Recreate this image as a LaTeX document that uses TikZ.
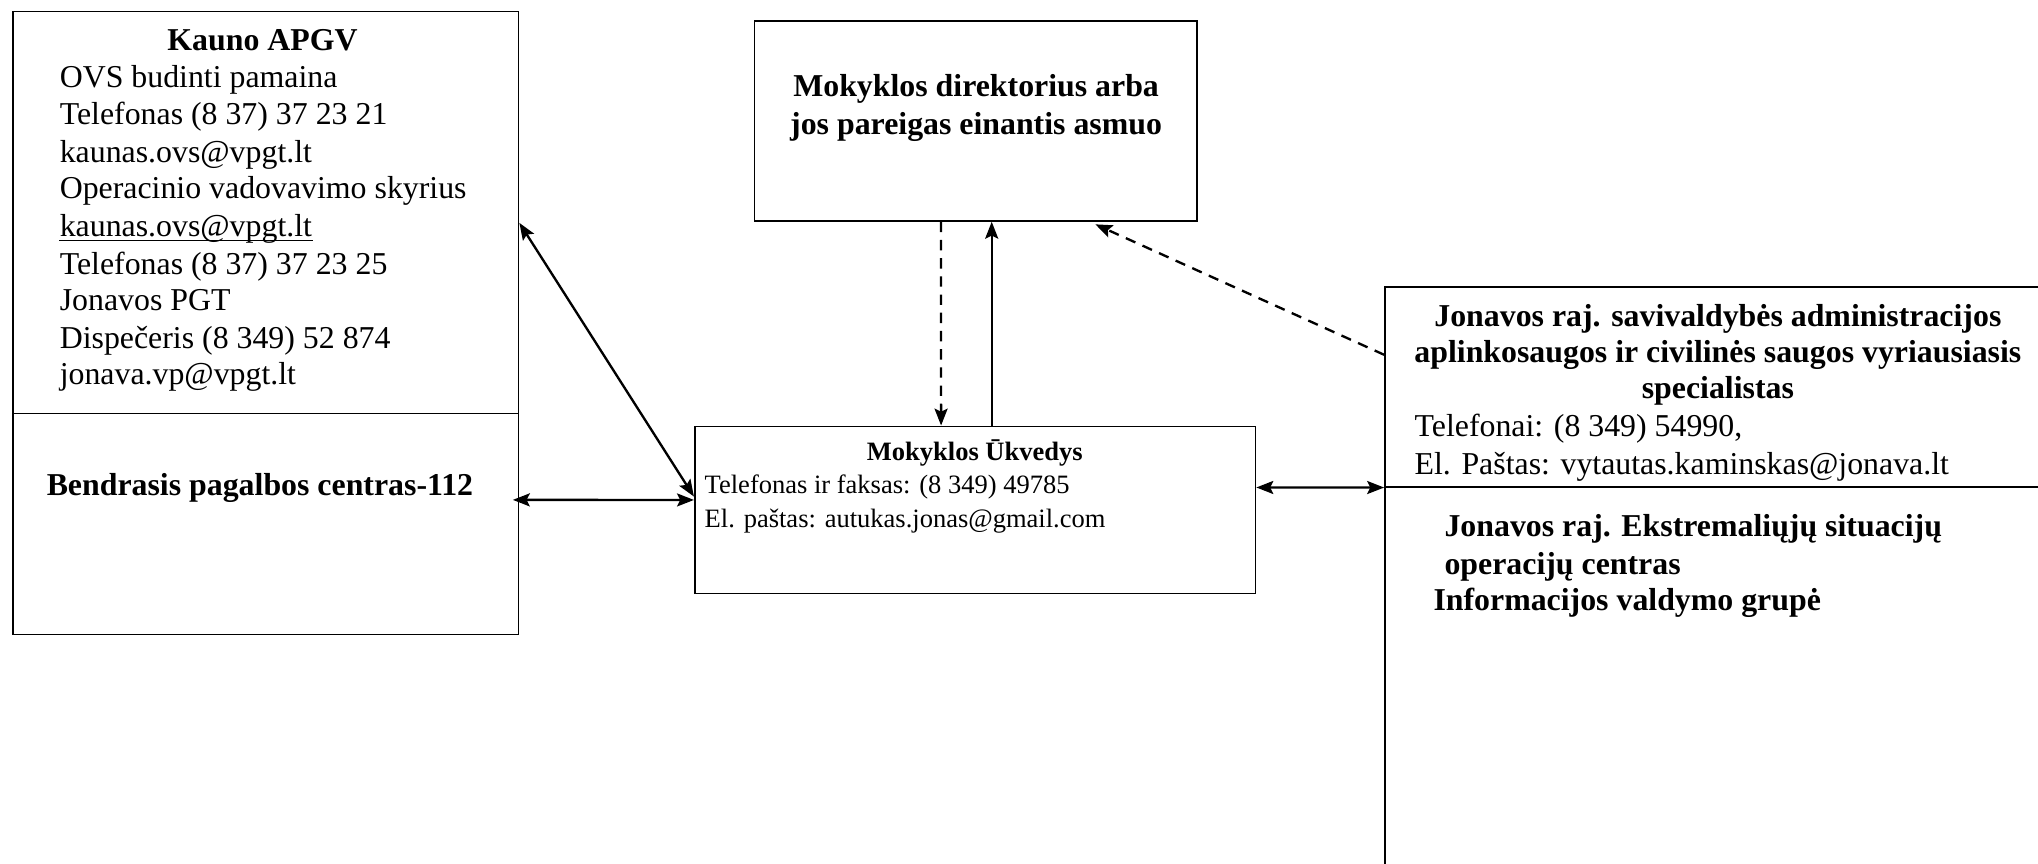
\documentclass[tikz,border=0pt]{standalone}
\usepackage{fontspec}
\setmainfont{Liberation Serif}
\usetikzlibrary{arrows.meta}
\newcommand\fsA{\fontsize{12.25pt}{14pt}\selectfont}
\newcommand\fsB{\fontsize{10.2pt}{12pt}\selectfont}
\begin{document}
\begin{tikzpicture}[x=0.5pt,y=-0.5pt,
  box/.style={draw, line width=0.6pt, rectangle, inner sep=0pt},
  txt/.style={inner sep=0pt, anchor=base west, font=\fsA},
  ttl/.style={inner sep=0pt, anchor=base, font=\fsA\bfseries},
  stxt/.style={inner sep=0pt, anchor=base west, font=\fsB},
  sttl/.style={inner sep=0pt, anchor=base, font=\fsB\bfseries},
  arr/.style={line width=0.9pt, -{Stealth[length=6.5pt,width=5pt,inset=1.2pt]}},
  darr/.style={line width=0.9pt, {Stealth[length=6.5pt,width=5pt,inset=1.2pt]}-{Stealth[length=6.5pt,width=5pt,inset=1.2pt]}},
  dsh/.style={dashed, dash pattern=on 4pt off 3pt}]
\useasboundingbox (0,0) rectangle (1568,664);
\clip (0,0) rectangle (1568,664);
\fill[white] (0,0) rectangle (1568,664);
% boxes
\node[box, minimum width=194.5pt, minimum height=154.5pt] (kau) at (204.5,163.5) {};
\node[box, minimum width=194.5pt, minimum height=85pt] (bpc) at (204.5,403) {};
\node[box, minimum width=170.25pt, minimum height=77pt] (dir) at (750.75,93) {};
\node[box, minimum width=215.75pt, minimum height=64.25pt] (uk) at (750.25,392.25) {};
\node[box, minimum width=277.25pt, minimum height=76.75pt] (spec) at (1342.75,297.75) {};
\node[box, minimum width=277.25pt, minimum height=172.75pt] (esoc) at (1342.75,547.25) {};
% left texts
\node[ttl] (kauT) at (202,39) {Kauno APGV};
\node[txt] (k1) at (45.6,67.6) {OVS budinti pamaina};
\node[txt] (k2) at (45.6,96) {Telefonas (8 37) 37 23 21};
\node[txt] (k3) at (45.6,125) {kaunas.ovs@vpgt.lt};
\node[txt] (k4) at (45.6,153) {Operacinio vadovavimo skyrius};
\node[txt] (k5) at (45.6,182) {kaunas.ovs@vpgt.lt};
\draw[line width=0.5pt] ([yshift=-1.6pt]k5.base west) -- ([yshift=-1.6pt]k5.base east);
\node[txt] (k6) at (45.6,211) {Telefonas (8 37) 37 23 25};
\node[txt] (k7) at (45.6,239) {Jonavos PGT};
\node[txt] (k8) at (45.6,268) {Dispečeris (8 349) 52 874};
\node[txt] (k9) at (45.6,296) {jonava.vp@vpgt.lt};
\node[ttl] (bpcT) at (200,381) {Bendrasis pagalbos centras-112};
% director
\node[ttl] (dirT1) at (751,74.5) {Mokyklos direktorius arba};
\node[ttl] (dirT2) at (751,103.4) {jos pareigas einantis asmuo};
% ukvedys
\node[sttl] (ukT) at (750,354) {Mokyklos Ūkvedys};
\node[stxt] (uk1) at (541.8,380) {Telefonas ir faksas: (8 349) 49785};
\node[stxt] (uk2) at (541.8,406) {El. paštas: autukas.jonas@gmail.com};
% specialist
\node[ttl] (spT1) at (1321.7,251.3) {Jonavos raj. savivaldybės administracijos};
\node[ttl] (spT2) at (1321.7,279) {aplinkosaugos ir civilinės saugos vyriausiasis};
\node[ttl] (spT3) at (1321.7,306.6) {specialistas};
\node[txt] (sp1) at (1088,335.7) {Telefonai: (8 349) 54990,};
\node[txt] (sp2) at (1088,364.8) {El. Paštas: vytautas.kaminskas@jonava.lt};
% ESOC
\node[txt, font=\fsA\bfseries] (es1) at (1111,412.8) {Jonavos raj. Ekstremaliųjų situacijų};
\node[txt, font=\fsA\bfseries] (es2) at (1111,441.9) {operacijų centras};
\node[txt, font=\fsA\bfseries] (es3) at (1102.5,469.5) {Informacijos valdymo grupė};
% connectors
\draw[arr, dsh] ([xshift=-13.4pt]dir.south) -- ([xshift=-13.1pt]uk.north);
\draw[arr] ([xshift=6.375pt]uk.north) -- ([xshift=6.125pt]dir.south);
\draw[arr, dsh] ([yshift=12.4pt]spec.west) -- ([xshift=46pt,yshift=-1pt]dir.south);
\draw[darr] ([yshift=-4pt]kau.east) -- ([yshift=5.1pt]uk.west);
\draw[darr] ([xshift=-2.5pt,yshift=9.2pt]bpc.east) -- ([yshift=3.8pt]uk.west);
\draw[darr] ([yshift=8.6pt]uk.east) -- (spec.south west);
\end{tikzpicture}
\end{document}
